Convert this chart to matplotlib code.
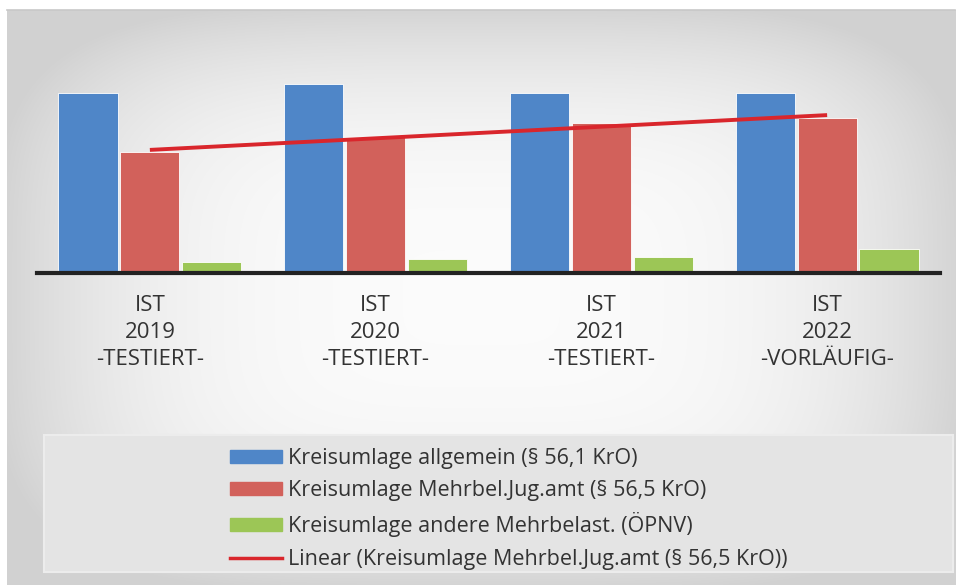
import numpy as np
import matplotlib
matplotlib.use("Agg")
import matplotlib.pyplot as plt
from matplotlib.patches import Rectangle
from matplotlib.lines import Line2D

categories = ["IST\n2019\n-TESTIERT-", "IST\n2020\n-TESTIERT-", "IST\n2021\n-TESTIERT-", "IST\n2022\n-VORLÄUFIG-"]
allgemein = [18.0, 18.9, 18.0, 18.0]
jugamt = [12.1, 13.6, 15.0, 15.5]
oepnv = [1.1, 1.4, 1.6, 2.4]
series_names = ["Kreisumlage allgemein (§ 56,1 KrO)",
                "Kreisumlage Mehrbel.Jug.amt (§ 56,5 KrO)",
                "Kreisumlage andere Mehrbelast. (ÖPNV)",
                "Linear (Kreisumlage Mehrbel.Jug.amt (§ 56,5 KrO))"]

FONT = ["Open Sans", "DejaVu Sans"]
W, H = 960, 585
fig = plt.figure(figsize=(W / 100, H / 100), dpi=100)
fig.patch.set_facecolor("white")

# gradient background panel
bg = fig.add_axes([7 / W, 0, (955 - 7) / W, (585 - 10) / H])
yy, xx = np.mgrid[-1:1:300j, -1:1:500j]
r = (np.abs(xx) ** 4 + np.abs(yy) ** 4) ** 0.25
val = np.clip(0.985 - 0.15 * r ** 3, 0.82, 0.99)
img = np.dstack([val, val, val])
bg.imshow(img, aspect="auto", extent=[0, 1, 0, 1], interpolation="bilinear")
bg.set_xlim(0, 1)
bg.set_ylim(0, 1)
bg.axis("off")
fig.add_artist(Line2D([7 / W, 955 / W], [1 - 10 / H, 1 - 10 / H], color="#c8c8c8", lw=1.2, transform=fig.transFigure))

# legend box
fig.add_artist(Rectangle((44 / W, 1 - 572 / H), (953 - 44) / W, (572 - 435) / H,
                         transform=fig.transFigure, facecolor="#e4e4e4", edgecolor="#ececec", lw=1.5))

ax = fig.add_axes([37 / W, 1 - 273 / H, (940 - 37) / W, (273 - 40) / H])
ax.patch.set_alpha(0)
x = np.arange(len(categories))
w = 0.262
off = 0.274
c_blue, c_red, c_green = "#4F86C8", "#D2615B", "#9CC656"
ax.bar(x - off, allgemein, w, color=c_blue, edgecolor="white", linewidth=0.6, zorder=2)
ax.bar(x, jugamt, w, color=c_red, edgecolor="white", linewidth=0.6, zorder=2)
ax.bar(x + off, oepnv, w, color=c_green, edgecolor="white", linewidth=0.6, zorder=2)
k, b = np.polyfit(x, jugamt, 1)
ax.plot(x, k * x + b, color="#D9262C", lw=2.8, zorder=3, solid_capstyle="butt")

ax.set_xlim(-0.5, 3.5)
ax.set_ylim(0, 23.3)
for s in ["top", "left", "right"]:
    ax.spines[s].set_visible(False)
ax.spines["bottom"].set_linewidth(3)
ax.spines["bottom"].set_color("#222222")
ax.set_yticks([])
ax.set_xticks(x)
ax.set_xticklabels(categories, fontsize=16, color="#333333", linespacing=1.36, family=FONT)
ax.tick_params(axis="x", length=0, pad=16)

handles = [Rectangle((0, 0), 1, 1, color=c_blue), Rectangle((0, 0), 1, 1, color=c_red),
           Rectangle((0, 0), 1, 1, color=c_green), Line2D([0], [0], color="#D9262C", lw=2.5)]
leg = fig.legend(handles, series_names, loc="upper left", bbox_to_anchor=(230 / W, 1 - 448 / H),
                 frameon=False, prop={"family": FONT, "size": 15.5}, handlelength=2.4, handleheight=0.55,
                 handletextpad=0.3, labelspacing=0.52, borderaxespad=0, borderpad=0, labelcolor="#333333")

fig.savefig("out.png", dpi=100)
